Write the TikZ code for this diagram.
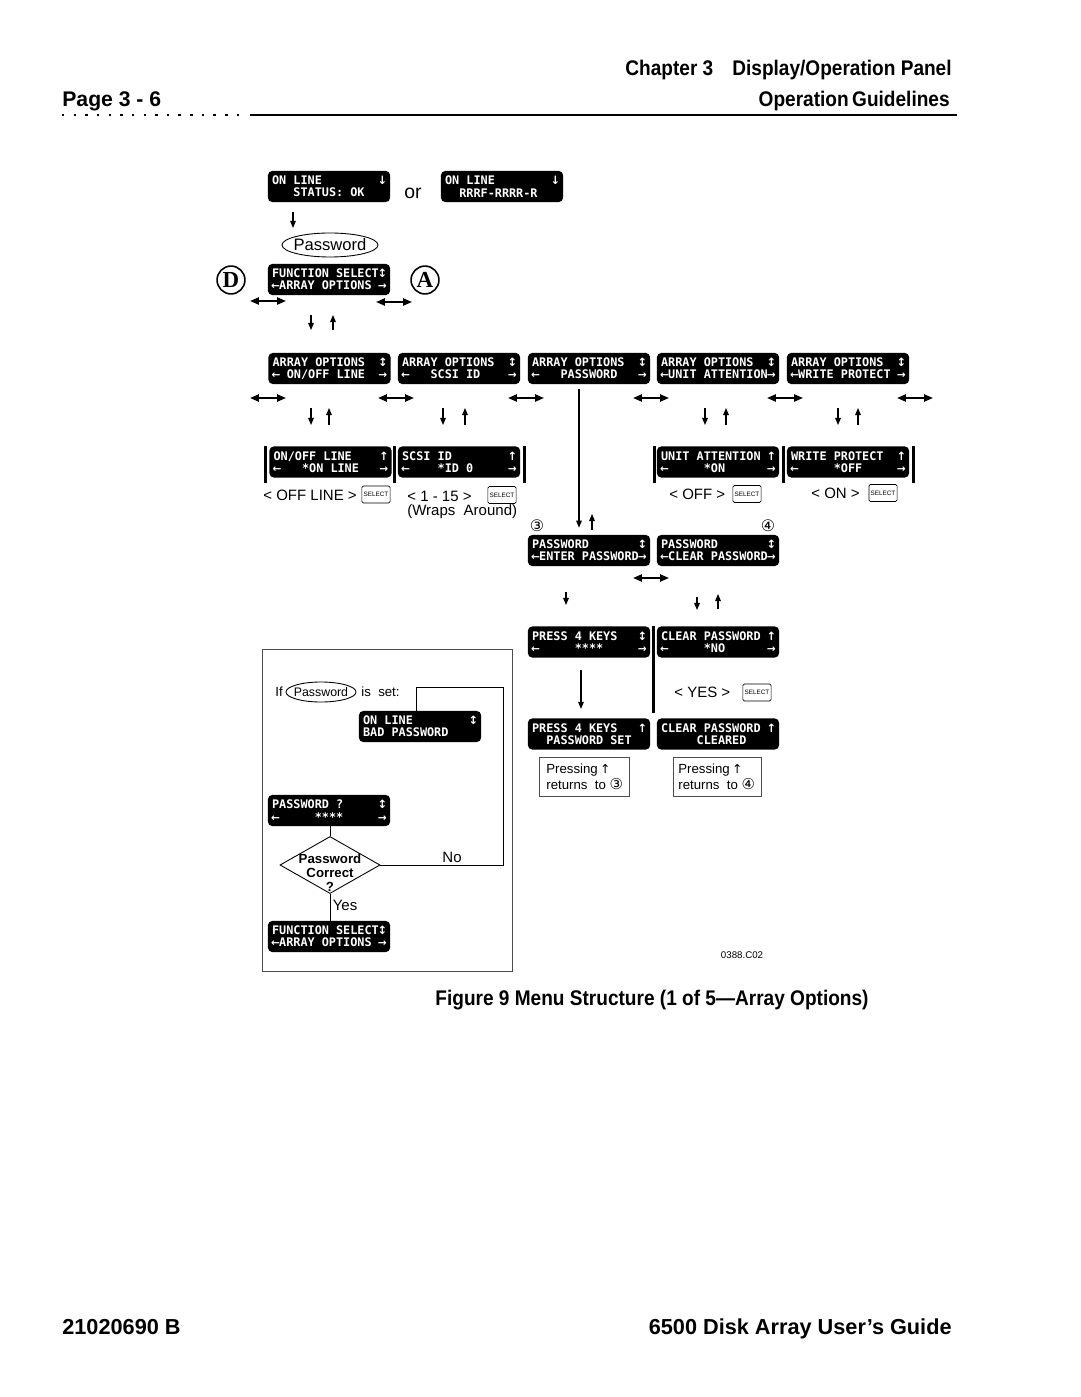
\documentclass[tikz,border=0pt]{standalone}
\usepackage{fontspec}
\setmainfont{Liberation Sans}
\newfontfamily\hfont{Liberation Sans}[FakeStretch=0.9]
\newfontfamily\lcdf{DejaVu Sans Mono}
\newfontfamily\symf{DejaVu Sans}
\newfontfamily\serifb{Liberation Serif}
\usetikzlibrary{shapes.geometric,arrows.meta,calc}
\tikzset{
  lcd/.style={fill=black, text=white, rounded corners=2.4pt, minimum width=69.2pt,
    minimum height=17.6pt, inner sep=0pt, align=left,
    font=\lcdf\bfseries\fontsize{6.7}{7}\selectfont},
  arr/.style={-{Triangle[length=4pt,width=3.2pt]}, line width=0.6pt},
  dbl/.style={{Triangle[length=5pt,width=4pt]}-{Triangle[length=5pt,width=4pt]}, line width=1pt},
  hdr/.style={font=\hfont\bfseries\fontsize{12}{14}\selectfont, inner sep=0pt},
  ftr/.style={font=\bfseries\fontsize{12.3}{14}\selectfont, inner sep=0pt},
  lbl/.style={font=\fontsize{8.5}{10}\selectfont, inner sep=0pt},
  small/.style={font=\fontsize{7.5}{9}\selectfont, inner sep=0pt},
  selkey/.style={draw, line width=0.4pt, minimum width=16pt, minimum height=9.6pt,
    inner sep=0pt, font=\fontsize{3.6}{4}\selectfont, rounded corners=0.8pt},
  vbar/.style={line width=1.7pt},
  thinl/.style={line width=0.5pt},
  letter/.style={circle, draw, line width=0.9pt, minimum size=15.8pt, inner sep=0pt,
    font=\serifb\bfseries\fontsize{13}{13}\selectfont},
  cnum/.style={font=\symf\fontsize{9}{9}\selectfont, inner sep=0pt},
}
\newcommand\lcd[4]{\node[lcd] (#1) at (#2) {\hbox{#3}\\\hbox{#4}};}
\newcommand\lcdsym[2][6]{\makebox[0.602em][c]{\symf\bfseries\fontsize{#1}{6}\selectfont #2}}
\newcommand\LA{\lcdsym{←}}
\newcommand\RA{\lcdsym{→}}
\newcommand\UA{\lcdsym[6.5]{↑}}
\newcommand\DA{\lcdsym[6.5]{↓}}
\newcommand\UD{\lcdsym[6.5]{↕}}
\begin{document}
\begin{tikzpicture}[x=0.56667pt,y=-0.56667pt]
\useasboundingbox (0,0) rectangle (1080,1397);
\fill[white] (0,0) rectangle (1080,1397);

% header
\node[hdr, anchor=base east] (chap) at (952,76) {Chapter 3\hspace{0.9em}Display/Operation Panel};
\node[ftr, font=\bfseries\fontsize{12}{14}\selectfont, anchor=base west] (page) at (62,107) {Page 3 - 6};
\node[hdr, anchor=base east] (opg) at (950,107) {Operation\,Guidelines};
\draw[line width=1.3pt, dash pattern=on 1.4pt off 5.2pt] (62,115) -- (246,115);
\draw[line width=1.6pt] (250,115) -- (957,115);

% top
\lcd{on1}{329,186.5}{ON~LINE~~~~~~~~\DA}{~~~STATUS:~OK~~~}
\lcd{on2}{502,186.5}{ON~LINE~~~~~~~~\DA}{~~RRRF-RRRR-R~~~}
\node[font=\fontsize{11}{12}\selectfont, inner sep=0pt] (or) at (413,193) {or};
\draw[arr] (293,212) -- (293,228);
\node[font=\fontsize{9.4}{11}\selectfont, inner sep=0pt] (pw) at (330,245) {Password};
\draw[thinl] (pw.center) ellipse [x radius=48, y radius=12];
\lcd{fs1}{329,279.5}{FUNCTION~SELECT\UD}{\LA ARRAY~OPTIONS~\RA}
\node[letter] (D) at (231,280) {D};
\node[letter] (A) at (425,280) {A};
\draw[dbl] (250,301) -- (286,301);
\draw[dbl] (376,302) -- (412,302);
\draw[arr] (311,315) -- (311,330);
\draw[arr] (333,330) -- (333,315);

% array options row
\lcd{ao1}{329.5,368.5}{ARRAY~OPTIONS~~\UD}{\LA~ON/OFF~LINE~~\RA}
\lcd{ao2}{459,368.5}{ARRAY~OPTIONS~~\UD}{\LA~~~SCSI~ID~~~~\RA}
\lcd{ao3}{589,368.5}{ARRAY~OPTIONS~~\UD}{\LA~~~PASSWORD~~~\RA}
\lcd{ao4}{718,368.5}{ARRAY~OPTIONS~~\UD}{\LA UNIT~ATTENTION\RA}
\lcd{ao5}{848,368.5}{ARRAY~OPTIONS~~\UD}{\LA WRITE~PROTECT~\RA}
\foreach \a/\b in {250/286,378/414,508/544,633/669,767/803,897/933}
  \draw[dbl] (\a,398) -- (\b,398);
\foreach \d/\u in {311/329,443/465,705/726,838/858}{
  \draw[arr] (\d,408) -- (\d,425);
  \draw[arr] (\u,425) -- (\u,408);}

% second row
\lcd{oo}{330.5,462}{ON/OFF~LINE~~~~\UA}{\LA~~~*ON~LINE~~~\RA}
\lcd{sc}{459,462}{SCSI~ID~~~~~~~~\UA}{\LA~~~~*ID~0~~~~~\RA}
\lcd{ua}{718,462}{UNIT~ATTENTION~\UA}{\LA~~~~~*ON~~~~~~\RA}
\lcd{wp}{848,462}{WRITE~PROTECT~~\UA}{\LA~~~~~*OFF~~~~~\RA}
\foreach \x in {265,394.5,524,654,783.5,913}
  \draw[vbar] (\x,446) -- (\x,483);
\node[lbl, anchor=west] (l1) at (263,495) {<\ OFF\ LINE\ >};
\node[selkey] (k1) at (376,494.5) {SELECT};
\node[lbl, anchor=west] (l2) at (407,496) {<\ 1 - 15\ >};
\node[selkey] (k2) at (502,495) {SELECT};
\node[lbl, anchor=west] (l3) at (407,512) {(Wraps\ \ Around)};
\node[lbl, anchor=west] (l4) at (669,494) {<\ OFF\ >};
\node[selkey] (k3) at (747,494) {SELECT};
\node[lbl, anchor=west] (l5) at (811,493) {<\ ON\ >};
\node[selkey] (k4) at (883,493) {SELECT};

% password column
\lcd{pe}{589,550.5}{PASSWORD~~~~~~~\UD}{\LA ENTER~PASSWORD\RA}
\lcd{pc}{718,550.5}{PASSWORD~~~~~~~\UD}{\LA CLEAR~PASSWORD\RA}
\draw[arr] ($(ao3.south)+(-10,5)$) -- ($(pe.north)+(-10,-7)$);
\draw[arr] (592,530) -- (592,514);
\node[cnum] (c3) at (537,526) {③};
\node[cnum] (c4) at (768,526) {④};
\draw[dbl] (633,578) -- (669,578);
\draw[arr] (566,592) -- (566,605);
\draw[arr] (697,597) -- (697,610);
\draw[arr] (718,609) -- (718,594);
\lcd{pk}{589,642}{PRESS~4~KEYS~~~\UD}{\LA~~~~~****~~~~~\RA}
\lcd{cn}{718,642}{CLEAR~PASSWORD~\UA}{\LA~~~~~*NO~~~~~~\RA}
\draw[vbar] (653,626) -- (653,713);
\draw[arr] ($(pk.south)+(-8,12)$) -- ($(pk.south)+(-8,51)$);
\node[lbl, anchor=west] (l6) at (674,692) {<\ YES\ >};
\node[selkey] (k5) at (757,692.5) {SELECT};
\lcd{ps}{589,734}{PRESS~4~KEYS~~~\UA}{~~PASSWORD~SET~~}
\lcd{cc}{718,734}{CLEAR~PASSWORD~\UA}{~~~~~CLEARED~~~~}
\draw[thinl, draw=black!70] (539,757) rectangle (629,796);
\draw[thinl, draw=black!70] (673,757) rectangle (761,796);
\node[small, anchor=west, align=left] (r3) at (546,776.5)
  {Pressing\,{\symf\fontsize{7}{8}\selectfont ↑}\\returns\ \ to\ {\symf\fontsize{8.5}{9}\selectfont ③}};
\node[small, anchor=west, align=left] (r4) at (678,776.5)
  {Pressing\,{\symf\fontsize{7}{8}\selectfont ↑}\\returns\ \ to\ {\symf\fontsize{8.5}{9}\selectfont ④}};

% left box
\draw[thinl, draw=black!70] (262,649) rectangle (512,971);
\node[small, anchor=west] (if) at (275,692) {If};
\node[font=\fontsize{7}{9}\selectfont, inner sep=0pt] (pws) at (321,692) {Password};
\draw[thinl] (pws.center) ellipse [x radius=35, y radius=10];
\node[small, anchor=west] (isset) at (361,692) {is\ \ set:};
\lcd{bad}{420,726.5}{ON~LINE~~~~~~~~\UD}{BAD~PASSWORD~~~~}
\lcd{pq}{329,810.5}{PASSWORD~?~~~~~\UD}{\LA~~~~~****~~~~~\RA}
\node[draw, diamond, thinl, minimum width=56.7pt, minimum height=32.3pt, inner sep=0pt,
  aspect=1.75] (diam) at (330,865) {};
\node[small, align=center, font=\bfseries\fontsize{7.5}{8}\selectfont] (dt) at (330,873)
  {Password\\Correct\\?};
\lcd{fs2}{329,936.5}{FUNCTION~SELECT\UD}{\LA ARRAY~OPTIONS~\RA}
\draw[thinl] ($(pws.center)+(0,10)$) -- ($(pws.center)+(0,10)$ |- pq.north);
\draw[thinl] (pq.south -| diam.north) -- (diam.north);
\draw[thinl] (diam.south) -- (diam.south |- fs2.north);
\coordinate (cr) at (503,687);
\draw[thinl] (diam.east) -| (cr) -| ($(bad.north)+(-4,0)$);
\node[lbl] (no) at (452,857) {No};
\node[lbl] (yes) at (345,905) {Yes};
\node[font=\fontsize{5.5}{6}\selectfont, inner sep=0pt] (code) at (742,955) {0388.C02};

% caption and footer
\node[hdr] (cap) at (652,1000) {Figure 9 Menu Structure (1 of 5—Array Options)};
\node[ftr, anchor=base west] (f1) at (62,1334) {21020690 B};
\node[ftr, anchor=base east] (f2) at (952,1334) {6500 Disk Array User's Guide};
\end{tikzpicture}
\end{document}
